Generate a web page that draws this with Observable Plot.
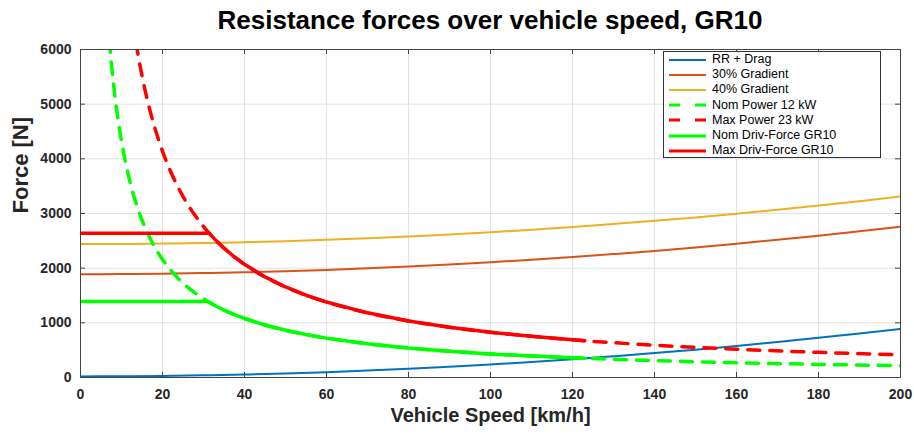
<!DOCTYPE html>
<html><head><meta charset="utf-8">
<script src="https://cdn.jsdelivr.net/npm/d3@7"></script>
<script src="https://cdn.jsdelivr.net/npm/@observablehq/plot@0.6"></script>
<style>
body{margin:0;background:#fff;font-family:"Liberation Sans",Arial,sans-serif;}
#wrap{position:relative;width:914px;height:433px;overflow:hidden;}
#title{position:absolute;left:80px;top:7px;width:820px;text-align:center;font-size:26px;line-height:26px;font-weight:bold;color:#000;}
#chart{position:absolute;left:0;top:40px;}
#legend{position:absolute;left:663px;top:51px;width:216px;height:105px;border:1px solid #333;background:#fff;}
.row{display:flex;align-items:center;height:15.2px;}
.row svg{margin-left:5px;margin-right:6px;flex:none;}
.row span{font-size:12.5px;color:#000;white-space:nowrap;line-height:15px;}
</style></head><body>
<div id="wrap">
<div id="title">Resistance forces over vehicle speed, GR10</div>
<div id="chart"></div>
<div id="legend"></div>
</div>
<script>
// ---- data ----
const xTicks = [0,20,40,60,80,100,120,140,160,180,200];
const yTicks = [0,1000,2000,3000,4000,5000,6000];

const speeds = [0,10,20,30,40,50,60,70,80,90,100,110,120,130,140,150,160,170,180,190,200];
const rrDrag = [20,22,29,40,55,74,98,127,159,196,238,283,333,388,446,509,577,649,725,805,890];
const grad30 = [1890,1892,1899,1910,1925,1944,1968,1997,2029,2066,2108,2153,2203,2258,2316,2379,2447,2519,2595,2675,2760];
const grad40 = [2440,2442,2449,2460,2475,2494,2518,2547,2579,2616,2658,2703,2753,2808,2866,2929,2997,3069,3145,3225,3310];

const nomPowerSpeed = [7,8,9,10,12,14,16,18,20,22,25,30,35,40,50,60,70,80,90,100,120,140,160,180,200];
const nomPower = [6171,5400,4800,4320,3600,3086,2700,2400,2160,1964,1728,1440,1234,1080,864,720,617,540,480,432,360,309,270,240,216];

const maxPowerSpeed = [13.5,15,16,18,20,22,25,28,31,35,40,50,60,70,80,90,100,120,140,160,180,200];
const maxPower = [6133,5520,5175,4600,4140,3764,3312,2957,2671,2366,2070,1656,1380,1183,1035,920,828,690,591,518,460,414];

const nomDrivSpeed = [0,31,33,35,37.5,40,45,50,55,60,70,80,90,100,110,123];
const nomDriv = [1390,1390,1309,1234,1152,1080,960,864,785,720,617,540,480,432,393,351];

const maxDrivSpeed = [0,31.4,33,35,37.5,40,45,50,55,60,70,80,90,100,110,123];
const maxDriv = [2640,2640,2509,2366,2208,2070,1840,1656,1505,1380,1183,1035,920,828,753,673];

const seriesNames = ["RR + Drag","30% Gradient","40% Gradient","Nom Power 12 kW","Max Power 23 kW","Nom Driv-Force GR10","Max Driv-Force GR10"];
const seriesColors = ["#0072BD","#D95319","#EDB120","#00FF00","#FF0000","#00FF00","#FF0000"];
const seriesDashed = [false,false,false,true,true,false,false];
const seriesWidths = [2,2,2,3.5,3.5,3.5,3.5];
const seriesCurves = ["monotone-x","monotone-x","monotone-x","monotone-x","monotone-x","linear","linear"];

const rows = (xs, ys) => xs.map((x, i) => ({x, y: ys[i]}));
const seriesData = [
  rows(speeds, rrDrag), rows(speeds, grad30), rows(speeds, grad40),
  rows(nomPowerSpeed, nomPower), rows(maxPowerSpeed, maxPower),
  rows(nomDrivSpeed, nomDriv), rows(maxDrivSpeed, maxDriv)
];

const DASH = "12,10";
const axisColor = "#444";
const frameW = 820, frameH = 328, tickLen = 5;

const lineMarks = seriesData.map((d, i) => Plot.line(d, {
  x: "x", y: "y", stroke: seriesColors[i], strokeWidth: seriesWidths[i],
  strokeDasharray: seriesDashed[i] ? DASH : null, curve: seriesCurves[i], clip: true
}));

const chart = Plot.plot({
  width: 914, height: 393,
  marginTop: 9, marginBottom: 56, marginLeft: 80, marginRight: 14,
  style: {fontFamily: "'Liberation Sans', Arial, sans-serif", fontWeight: "bold", background: "#fff"},
  x: {domain: [0, 200]},
  y: {domain: [0, 6000]},
  marks: [
    Plot.gridX(xTicks, {stroke: "#e2e2e2", strokeOpacity: 1}),
    Plot.gridY(yTicks, {stroke: "#e2e2e2", strokeOpacity: 1}),
    ...lineMarks,
    Plot.frame({stroke: axisColor}),
    Plot.tickX(xTicks, {x: d => d, insetTop: frameH - tickLen, stroke: axisColor}),
    Plot.tickX(xTicks, {x: d => d, insetBottom: frameH - tickLen, stroke: axisColor}),
    Plot.tickY(yTicks, {y: d => d, insetRight: frameW - tickLen, stroke: axisColor}),
    Plot.tickY(yTicks, {y: d => d, insetLeft: frameW - tickLen, stroke: axisColor}),
    Plot.axisX({ticks: xTicks, tickSize: 0, tickPadding: 12, fontSize: 14, label: null, fill: "#262626", tickFormat: d => String(d)}),
    Plot.axisY({ticks: yTicks, tickSize: 0, tickPadding: 9, fontSize: 14, label: null, fill: "#262626", tickFormat: d => String(d)}),
    Plot.text(["Force [N]"], {text: d => d, frameAnchor: "left", dx: -60, rotate: -90, fontSize: 22, fontWeight: "bold", fill: "#262626"}),
    Plot.text(["Vehicle Speed [km/h]"], {text: d => d, frameAnchor: "bottom", dy: 44, fontSize: 20, fontWeight: "bold", fill: "#262626"})
  ]
});
document.getElementById("chart").appendChild(chart);

// legend
const leg = document.getElementById("legend");
seriesNames.forEach((name, i) => {
  const row = document.createElement("div");
  row.className = "row";
  const w = seriesWidths[i] > 2.5 ? 3 : 2;
  row.innerHTML = `<svg width="37" height="8"><line x1="0" y1="4" x2="37" y2="4" stroke="${seriesColors[i]}" stroke-width="${w}" ${seriesDashed[i] ? 'stroke-dasharray="11,15"' : ''}/></svg><span>${name}</span>`;
  leg.appendChild(row);
});
</script>
</body></html>
